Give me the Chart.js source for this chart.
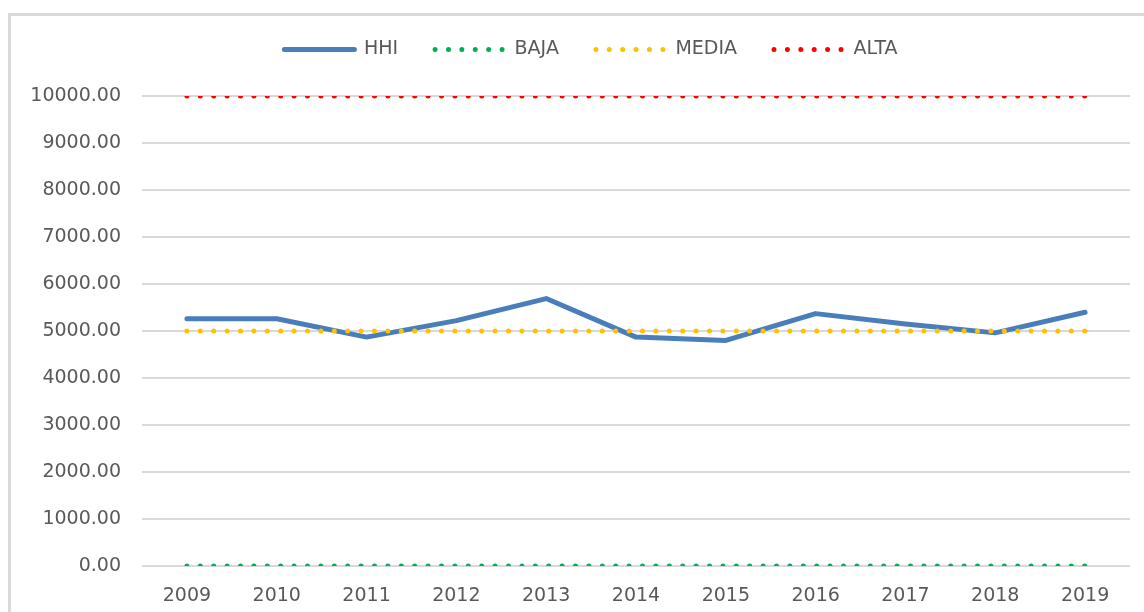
<html lang="es">
 <head>
  <meta charset="UTF-8">
  <title>HHI</title>
  <style>
      body {
        margin: 0;
        padding: 0;
        background-color: #fff;
        overflow: hidden;
      }

      /* marco gris del grafico */
      .marco {
        position: absolute;
        left: 8px;
        top: 13px;
        width: 1200px;
        height: 700px;
        border: 3px solid #d9d9d9;
      }

      #hhiChart {
        position: absolute;
        left: 0;
        top: 0;
      }
    </style>
 </head>
 <body>
  <div class="marco"></div>
  <canvas id="hhiChart" width="1144" height="612"></canvas>
  <script src="https://cdn.jsdelivr.net/npm/chart.js"></script>
  <script>
      const anios = ['2009', '2010', '2011', '2012', '2013', '2014', '2015', '2016', '2017', '2018', '2019'];
      const hhi = [5260, 5260, 4870, 5220, 5690, 4870, 4800, 5370, 5150, 4960, 5400];
      const baja = [0, 0, 0, 0, 0, 0, 0, 0, 0, 0, 0];
      const media = [5000, 5000, 5000, 5000, 5000, 5000, 5000, 5000, 5000, 5000, 5000];
      const alta = [10000, 10000, 10000, 10000, 10000, 10000, 10000, 10000, 10000, 10000, 10000];

      const gris = '#595959';
      Chart.defaults.font.family = 'DejaVu Sans';
      Chart.defaults.font.size = 19;
      Chart.defaults.color = gris;

      // linea punteada: puntos redondos cada ~13 px
      function punteada(label, data, color) {
        return {
          label: label,
          data: data,
          borderColor: color,
          backgroundColor: color,
          borderWidth: 5,
          borderDash: [0, 13.4],
          borderCapStyle: 'round',
          pointRadius: 0,
          fill: false,
          order: 0
        };
      }

      // la leyenda ocupa toda la franja superior y se centra sobre el area del grafico
      const ajusteLeyenda = {
        id: 'ajusteLeyenda',
        beforeLayout(chart) {
          const legend = chart.legend;
          if (!legend || legend._altoFijo) return;
          const fit = legend.fit;
          legend.fit = function () {
            fit.call(this);
            this.height = 93;
          };
          legend._altoFijo = true;
        },
        afterLayout(chart) {
          chart.legend.left = 52;
        }
      };

      const ctx = document.getElementById('hhiChart').getContext('2d');
      const hhiChart = new Chart(ctx, {
        type: 'line',
        data: {
          labels: anios,
          datasets: [
            {
              label: 'HHI',
              data: hhi,
              borderColor: '#4a7ebb',
              backgroundColor: '#4a7ebb',
              borderWidth: 5,
              borderCapStyle: 'round',
              borderJoinStyle: 'round',
              pointRadius: 0,
              tension: 0,
              fill: false,
              order: 1
            },
            punteada('BAJA', baja, '#00b050'),
            punteada('MEDIA', media, '#ffc000'),
            punteada('ALTA', alta, '#ff0000')
          ]
        },
        options: {
          responsive: false,
          animation: false,
          layout: {
            padding: { left: 0, right: 14, top: 3, bottom: 0 }
          },
          plugins: {
            tooltip: { enabled: false },
            legend: {
              display: true,
              position: 'top',
              labels: {
                usePointStyle: true,
                pointStyleWidth: 70,
                padding: 37,
                color: gris,
                generateLabels: (chart) => chart.data.datasets.map((ds, i) => ({
                  text: ds.label,
                  datasetIndex: i,
                  pointStyle: 'line',
                  strokeStyle: ds.borderColor,
                  fillStyle: ds.borderColor,
                  lineWidth: ds.borderWidth,
                  lineDash: ds.borderDash || [],
                  lineCap: ds.borderCapStyle,
                  fontColor: gris,
                  hidden: false
                }))
              }
            }
          },
          scales: {
            x: {
              offset: true,
              grid: { display: false },
              border: { display: false },
              ticks: { padding: 11, color: gris },
              afterFit(scale) {
                scale.height = 46;
              }
            },
            y: {
              min: 0,
              max: 10000,
              ticks: {
                stepSize: 1000,
                padding: 21,
                color: gris,
                callback: (v) => Number(v).toFixed(2)
              },
              grid: { color: '#d9d9d9', lineWidth: 2, drawTicks: false },
              border: { display: false },
              afterFit(scale) {
                scale.width = 142;
              }
            }
          }
        },
        plugins: [ajusteLeyenda]
      });
    </script>
 </body>
</html>
